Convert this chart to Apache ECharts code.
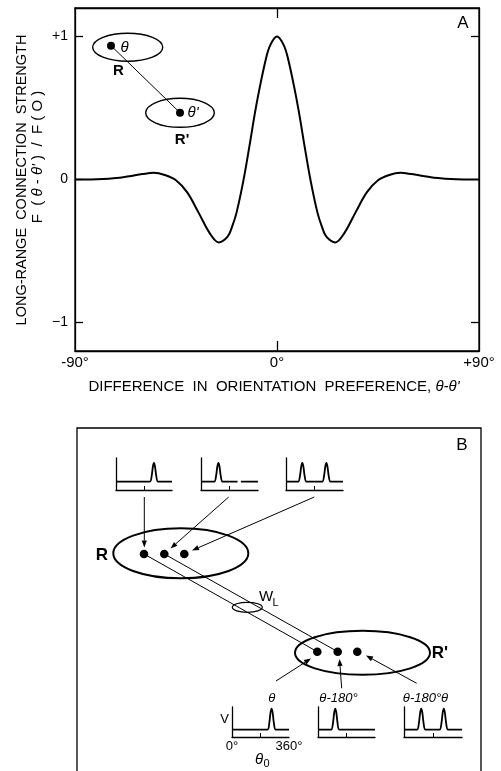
<!DOCTYPE html>
<html><head><meta charset="utf-8">
<script src="https://cdn.jsdelivr.net/npm/echarts@6/dist/echarts.min.js"></script>
<style>html,body{margin:0;padding:0;background:#fff}#c{width:501px;height:771px}</style>
</head><body><div id="c"></div>
<script>
// ---------- Panel A data ----------
const orientationDiff = [-90,-85,-80,-75,-70,-65,-60,-55,-50,-45,-40,-35,-30,-26,-22,-20,-18,-15,-12,-10,-8,-5,-3,0,3,5,8,10,12,15,18,20,22,26,30,35,40,45,50,55,60,65,70,75,80,85,90];
const connectionStrength = [0,0,0.002,0.006,0.012,0.025,0.038,0.047,0.032,-0.005,-0.09,-0.23,-0.375,-0.44,-0.40,-0.33,-0.23,-0.01,0.26,0.45,0.62,0.84,0.94,1.0,0.94,0.84,0.62,0.45,0.26,-0.01,-0.23,-0.33,-0.40,-0.44,-0.375,-0.23,-0.09,-0.005,0.032,0.047,0.038,0.025,0.012,0.006,0.002,0,0];
const xTickValues = [-90, 0, 90];
const xTickLabels = ['-90°', '0°', '+90°'];
const yTickValues = [-1, 0, 1];
const yTickLabels = ['\u22121', '0', '+1'];

// ---------- Panel B tuning curves (orientation 0..360°, response) ----------
const tuneTop1 = [[0,0],[218,0],[230,0.35],[237,0.8],[244,1],[251,0.8],[258,0.35],[270,0],[360,0]];
const tuneTop2 = [[0,0],[84,0],[96,0.35],[103,0.8],[110,1],[117,0.8],[124,0.35],[136,0],[231,0],[241,null],[252,0],[360,0]];
const tuneTop3 = [[0,0],[77,0],[89,0.35],[96,0.8],[103,1],[110,0.8],[117,0.35],[129,0],[229,0],[241,0.35],[248,0.8],[255,1],[262,0.8],[269,0.35],[281,0],[360,0]];
const tuneBot1 = [[0,0],[224,0],[236,0.35],[243,0.8],[250,1],[257,0.8],[264,0.35],[276,0],[360,0]];
const tuneBot2 = [[0,0],[83,0],[95,0.35],[102,0.8],[109,1],[116,0.8],[123,0.35],[135,0],[360,0]];
const tuneBot3 = [[0,0],[81,0],[93,0.35],[100,0.8],[107,1],[114,0.8],[121,0.35],[133,0],[221,0],[233,0.35],[240,0.8],[247,1],[254,0.8],[261,0.35],[273,0],[360,0]];

const FONT = '"Liberation Sans", Arial, sans-serif';
const chart = echarts.init(document.getElementById('c'), null, {renderer: 'canvas'});

const insets = [
  {data: tuneTop1, left: 116, top: 458, width: 56, height: 32, ymin: -0.45, ymax: 1.27},
  {data: tuneTop2, left: 201, top: 458, width: 57, height: 32, ymin: -0.45, ymax: 1.27},
  {data: tuneTop3, left: 286, top: 458, width: 57, height: 32, ymin: -0.45, ymax: 1.27},
  {data: tuneBot1, left: 232, top: 707, width: 57, height: 30, ymin: -0.35, ymax: 1.08, labels: true},
  {data: tuneBot2, left: 318, top: 707, width: 57, height: 30, ymin: -0.35, ymax: 1.08},
  {data: tuneBot3, left: 404, top: 707, width: 58, height: 30, ymin: -0.35, ymax: 1.08}
];

const grids = [{left: 75, top: 8, width: 404, height: 343, show: true, borderColor: '#000', borderWidth: 1.3, containLabel: false}];
const xAxes = [
  {gridIndex: 0, type: 'value', min: -90, max: 90, position: 'bottom',
   axisLine: {onZero: false, lineStyle: {color: '#000', width: 1.3}},
   axisTick: {inside: true, length: 10, customValues: [0], lineStyle: {color: '#000', width: 1.3}},
   axisLabel: {customValues: xTickValues, formatter: v => xTickLabels[xTickValues.indexOf(v)], color: '#000', fontSize: 15, fontFamily: FONT, margin: 4},
   splitLine: {show: false}},
  {gridIndex: 0, type: 'value', min: -90, max: 90, position: 'top',
   axisLine: {onZero: false, lineStyle: {color: '#000', width: 1.3}},
   axisTick: {inside: true, length: 10, customValues: [0], lineStyle: {color: '#000', width: 1.3}},
   axisLabel: {show: false}, splitLine: {show: false}}
];
const yAxes = [
  {gridIndex: 0, type: 'value', min: -1.2, max: 1.2, position: 'left',
   axisLine: {onZero: false, lineStyle: {color: '#000', width: 1.3}},
   axisTick: {inside: true, length: 8, customValues: yTickValues, lineStyle: {color: '#000', width: 1.3}},
   axisLabel: {customValues: yTickValues, formatter: v => yTickLabels[yTickValues.indexOf(v)], color: '#000', fontSize: 14, fontFamily: FONT, margin: 7},
   splitLine: {show: false}},
  {gridIndex: 0, type: 'value', min: -1.2, max: 1.2, position: 'right',
   axisLine: {onZero: false, lineStyle: {color: '#000', width: 1.3}},
   axisTick: {inside: true, length: 8, customValues: [-1, 1], lineStyle: {color: '#000', width: 1.3}},
   axisLabel: {show: false}, splitLine: {show: false}}
];
const series = [
  {type: 'line', xAxisIndex: 0, yAxisIndex: 0, data: orientationDiff.map((x, i) => [x, connectionStrength[i]]),
   smooth: 0.35, showSymbol: false, lineStyle: {color: '#000', width: 2}, silent: true}
];

insets.forEach((ins) => {
  const gi = grids.length;
  const xi = xAxes.length;
  const yi = yAxes.length;
  grids.push({left: ins.left, top: ins.top, width: ins.width, height: ins.height, show: false});
  xAxes.push({gridIndex: gi, type: 'value', min: 0, max: 360,
    axisLine: {onZero: false, lineStyle: {color: '#000', width: 1.3}},
    axisTick: {inside: true, length: 4, customValues: [180], lineStyle: {color: '#000', width: 1}},
    axisLabel: ins.labels ? {customValues: [0, 360], formatter: v => v + '°', color: '#000', fontSize: 13, fontFamily: FONT, margin: 3} : {show: false},
    splitLine: {show: false}});
  yAxes.push({gridIndex: gi, type: 'value', min: ins.ymin, max: ins.ymax,
    axisLine: {onZero: false, lineStyle: {color: '#000', width: 1.3}},
    axisTick: {show: false}, axisLabel: {show: false}, splitLine: {show: false}});
  series.push({type: 'line', xAxisIndex: xi, yAxisIndex: yi, data: ins.data, smooth: 0.25,
    showSymbol: false, connectNulls: false, lineStyle: {color: '#000', width: 1.8}, silent: true});
});

// ---------- schematic drawing helpers ----------
const G = [];
function txt(x, y, text, font, opts) {
  G.push(Object.assign({type: 'text', x: x, y: y, silent: true,
    style: Object.assign({text: text, font: font, fill: '#000', align: 'center', verticalAlign: 'middle'}, (opts && opts.style) || {})},
    (opts && opts.el) || {}));
}
function ell(cx, cy, rx, ry, w) { G.push({type: 'ellipse', silent: true, shape: {cx, cy, rx, ry}, style: {fill: null, stroke: '#000', lineWidth: w}}); }
function dot(cx, cy, r) { G.push({type: 'circle', silent: true, shape: {cx, cy, r}, style: {fill: '#000'}}); }
function seg(x1, y1, x2, y2, w) { G.push({type: 'line', silent: true, shape: {x1, y1, x2, y2}, style: {stroke: '#000', lineWidth: w}}); }
function arrow(x1, y1, x2, y2) {
  const L = 7, W = 2.6, dx = x2 - x1, dy = y2 - y1, d = Math.hypot(dx, dy), ux = dx / d, uy = dy / d;
  const bx = x2 - ux * L, by = y2 - uy * L;
  seg(x1, y1, bx, by, 1);
  G.push({type: 'polygon', silent: true, shape: {points: [[x2, y2], [bx - uy * W, by + ux * W], [bx + uy * W, by - ux * W]]}, style: {fill: '#000'}});
}

// Panel A texts
const F15 = '15px ' + FONT, F15i = 'italic 15px ' + FONT;
txt(463, 23, 'A', '17px ' + FONT);
txt(274, 387, 'DIFFERENCE  IN  ORIENTATION  PREFERENCE, {i|θ-θ\'}', F15, {style: {rich: {i: {font: F15i}}}});
txt(22, 180, 'LONG-RANGE  CONNECTION  STRENGTH', '14.5px ' + FONT, {el: {rotation: Math.PI / 2}});
txt(38, 157, 'F  ( {i|θ} - {i|θ\'} )  /  F ( O )', F15, {el: {rotation: Math.PI / 2}, style: {rich: {i: {font: F15i}}}});
// Panel A inset drawing
ell(127.7, 47.2, 35, 14, 1.4);
ell(180, 112.8, 34.3, 14.5, 1.4);
seg(111, 45.7, 180, 112.7, 1);
dot(111, 45.7, 4);
dot(180, 112.7, 4);
txt(124.5, 47.5, 'θ', 'italic 15px ' + FONT);
txt(193, 113.3, "θ'", 'italic 15px ' + FONT);
txt(118.3, 71, 'R', 'bold 15px ' + FONT);
txt(182, 139.5, "R'", 'bold 15px ' + FONT);

// Panel B frame
G.push({type: 'rect', silent: true, shape: {x: 77, y: 428, width: 404, height: 400}, style: {fill: null, stroke: '#000', lineWidth: 1.3}});
txt(462, 445, 'B', '17px ' + FONT);
// ellipses & dots
ell(180.8, 553.3, 67.5, 25, 2);
ell(362.5, 652.8, 67.5, 22, 2);
ell(247.3, 607.3, 15, 5, 1.2);
seg(144, 554, 317.3, 651.7, 1);
seg(164.3, 554, 337.7, 651.7, 1);
[144, 164.3, 184.3].forEach(x => dot(x, 554, 4.3));
[317.3, 337.7, 357.3].forEach(x => dot(x, 651.7, 4.3));
txt(102, 555, 'R', 'bold 17px ' + FONT);
txt(440, 653, "R'", 'bold 17px ' + FONT);
txt(266, 597, 'W', '15px ' + FONT);
txt(275.5, 602.5, 'L', '11px ' + FONT);
// arrows
arrow(144.3, 497, 144.3, 547.5);
arrow(228.7, 497, 170.5, 548.5);
arrow(314.3, 497, 192, 550.5);
arrow(276, 681, 311, 658.5);
arrow(341.7, 688.3, 339.5, 659);
arrow(416.7, 683.3, 366, 655.5);
// bottom labels
const F13i = 'italic 13px ' + FONT;
txt(271.7, 698, 'θ', F13i);
txt(338.5, 698, 'θ-180°', F13i);
txt(425.5, 698, 'θ-180°θ', F13i);
txt(224.5, 719.5, 'V', '13px ' + FONT);
txt(259, 760, 'θ', 'italic 15px ' + FONT);
txt(266.5, 764, '0', '11px ' + FONT);

chart.setOption({
  animation: false,
  backgroundColor: '#fff',
  textStyle: {fontFamily: FONT},
  grid: grids, xAxis: xAxes, yAxis: yAxes, series: series,
  graphic: {elements: G}
});
</script></body></html>
